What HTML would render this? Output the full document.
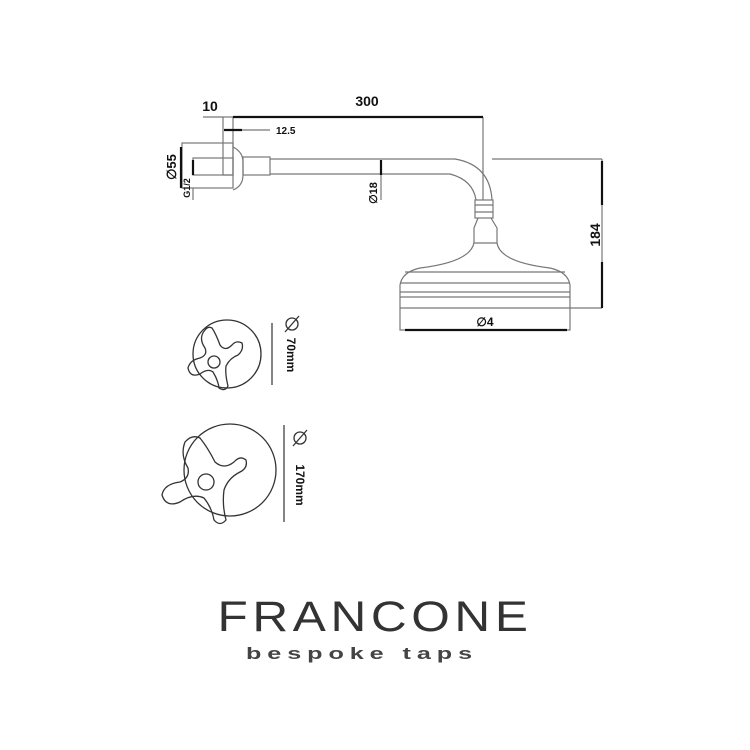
<!DOCTYPE html>
<html><head><style>
body{margin:0;background:#fff;width:750px;height:750px;overflow:hidden}
svg{position:absolute;left:0;top:0}
</style></head><body>
<svg width="750" height="750" viewBox="0 0 750 750" font-family="Liberation Sans, sans-serif">
<g fill="none" stroke="#777" stroke-width="1.2">
<!-- wall plate -->
<rect x="223" y="117" width="10" height="58"/>
<rect x="182" y="143" width="51" height="45"/>
<rect x="193" y="158" width="40" height="17"/>
<path d="M233 147 Q243 152 243 162 L243 175 Q243 186 233 190"/>
<rect x="243" y="157" width="27" height="18"/>
<!-- pipe -->
<path d="M270 159 L455 159 Q490 165 492 200"/>
<path d="M270 174 L450 174 Q473 180 476 200"/>
<!-- nut & neck -->
<rect x="475" y="200" width="18" height="18"/>
<line x1="475" y1="205" x2="493" y2="205"/><line x1="475" y1="212" x2="493" y2="212"/>
<path d="M478 218 L474 228 L474 243 L497 243 L497 228 L491 218"/>
<!-- bell -->
<path d="M474 243 Q470 262 420 268 Q402 272 400 285 L400 330 L570 330 L570 285 Q568 272 550 268 Q500 262 497 243"/>
<line x1="405" y1="272" x2="565" y2="272"/>
<line x1="400" y1="283" x2="570" y2="283"/>
<line x1="400" y1="292" x2="570" y2="292"/>
<line x1="400" y1="297" x2="570" y2="297"/>
<line x1="400" y1="308" x2="570" y2="308"/>
<!-- extension lines -->
<line x1="483" y1="117" x2="483" y2="200"/>
<line x1="203" y1="117" x2="223" y2="117"/>
<line x1="242" y1="130" x2="270" y2="130"/>
<line x1="492" y1="159" x2="602" y2="159"/>
<line x1="570" y1="308" x2="602" y2="308"/>
<line x1="602" y1="159" x2="602" y2="308"/>
<line x1="381" y1="175" x2="381" y2="200"/>
<line x1="193" y1="188" x2="193" y2="200"/>
<line x1="272" y1="323" x2="272" y2="385" stroke="#333"/>
<line x1="284" y1="425" x2="284" y2="522" stroke="#333"/>
</g>
<g stroke="#111" stroke-width="2.2" fill="none">
<line x1="233" y1="117" x2="483" y2="117"/>
<line x1="224" y1="130" x2="242" y2="130"/>
<line x1="602" y1="161" x2="602" y2="205"/>
<line x1="602" y1="262" x2="602" y2="308"/>
<line x1="381" y1="160" x2="381" y2="175"/>
<line x1="405" y1="330" x2="567" y2="330"/>
<line x1="181" y1="147" x2="181" y2="188"/>
<line x1="193" y1="160" x2="193" y2="175"/>
</g>
<g fill="#111" font-weight="bold">
<text x="367" y="106" font-size="14" text-anchor="middle">300</text>
<text x="210" y="111" font-size="14" text-anchor="middle">10</text>
<text x="276" y="134" font-size="10">12.5</text>
<text x="485" y="326" font-size="12" text-anchor="middle">∅4</text>
<text transform="translate(600,235) rotate(-90)" font-size="14" text-anchor="middle">184</text>
<text transform="translate(377,193) rotate(-90)" font-size="11" text-anchor="middle">∅18</text>
<text transform="translate(176,167) rotate(-90)" font-size="13" text-anchor="middle">∅55</text>
<text transform="translate(190,188) rotate(-90)" font-size="9" text-anchor="middle">G1/2</text>
<text transform="translate(287,355) rotate(90)" font-size="12" text-anchor="middle">70mm</text>
<text transform="translate(296,485) rotate(90)" font-size="12" text-anchor="middle">170mm</text>
</g>
<g fill="none" stroke="#333" stroke-width="1.3">
<circle cx="292" cy="324" r="6"/><line x1="285" y1="332" x2="299" y2="316"/>
<circle cx="300" cy="438" r="6"/><line x1="293" y1="446" x2="307" y2="430"/>
<circle cx="227" cy="354" r="34"/>
<path d="M205 330 Q198 338 205 348 Q208 355 200 358 Q190 360 188 368 Q190 378 200 374 Q208 368 213 372 Q218 380 219 388 Q225 392 228 386 Q225 374 226 366 Q230 358 238 355 Q244 350 242 343 Q236 340 232 345 Q225 352 220 345 Q216 334 212 328 Q208 326 205 330 Z"/>
<circle cx="214" cy="362" r="6"/>
<circle cx="230" cy="470" r="46"/>
<path d="M185 442 Q180 455 188 468 Q190 478 180 482 Q164 484 162 495 Q166 508 180 502 Q193 493 204 498 Q212 508 214 520 Q220 527 226 520 Q222 505 224 490 Q228 478 240 472 Q248 468 246 460 Q240 455 234 462 Q224 470 215 462 Q208 448 200 438 Q192 434 185 442 Z"/>
<circle cx="206" cy="482" r="8"/>
</g>
<text x="375" y="631" font-size="43" text-anchor="middle" fill="#333" letter-spacing="4" textLength="315" lengthAdjust="spacingAndGlyphs" style="font-weight:normal">FRANCONE</text>
<text x="362" y="659" font-size="17" text-anchor="middle" fill="#444" font-weight="bold" letter-spacing="4" textLength="232" lengthAdjust="spacingAndGlyphs">bespoke taps</text>
</svg>
</body></html>
